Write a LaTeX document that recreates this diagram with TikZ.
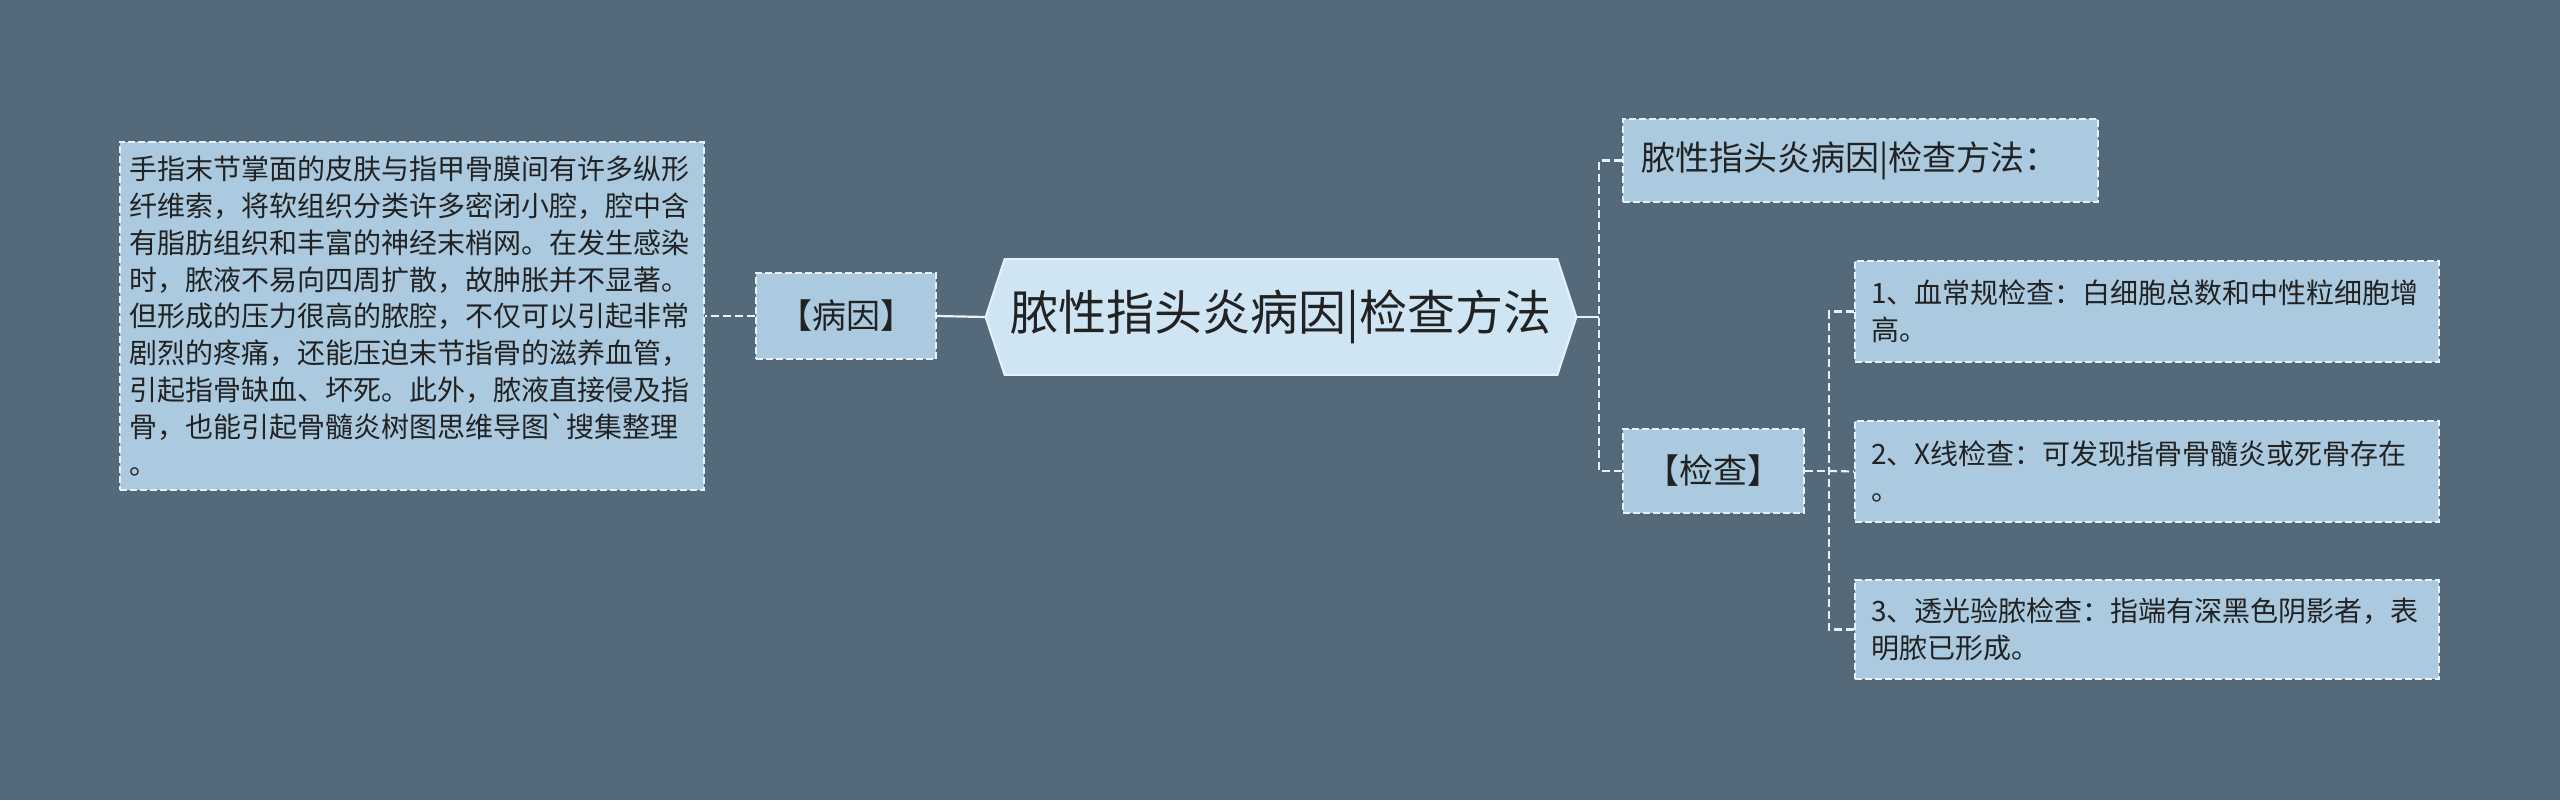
\documentclass[tikz,border=0pt]{standalone}
\usepackage{fontspec}
\setmainfont{Noto Sans CJK SC}[Ligatures=TeXOff]
\usetikzlibrary{backgrounds}
\definecolor{bgcol}{HTML}{546979}
\definecolor{boxcol}{HTML}{ABCADF}
\definecolor{rootcol}{HTML}{CFE5F3}
\definecolor{edgecol}{HTML}{E8F1F8}
\definecolor{inkcol}{HTML}{222222}
\begin{document}
\begin{tikzpicture}[x=0.5pt, y=-0.5pt,
  basebox/.style={rectangle, fill=boxcol, draw=edgecol, line width=1pt, dash pattern=on 3.5pt off 1.5pt, text=inkcol, inner sep=0pt},
  notebox/.style={basebox, font=\fontsize{14pt}{18.4pt}\selectfont, align=left, inner xsep=8pt, text width=276pt, minimum height=50.5pt},
  tagbox/.style={basebox, font=\fontsize{17pt}{20pt}\selectfont},
  rootnode/.style={text=inkcol, font=\fontsize{24pt}{28pt}\selectfont, minimum width=276pt, minimum height=57.5pt, inner sep=0pt},
  rootshape/.style={fill=rootcol, draw=edgecol, line width=1pt},
  link/.style={draw=edgecol, line width=1.1pt},
  dashlink/.style={link, dash pattern=on 4pt off 2pt}]
\useasboundingbox (0,0) rectangle (2560,800);
\begin{scope}[on background layer]
\fill[bgcol] (0,0) rectangle (2560,800);
\end{scope}
% centre
\node[rootnode] (root) at (1281,317) {脓性指头炎病因|检查方法};
\coordinate (rootL) at ([xshift=-9.5pt]root.west);
\coordinate (rootR) at ([xshift=9.5pt]root.east);
\begin{scope}[on background layer]
\draw[rootshape] (rootL) -- (root.north west) -- (root.north east) -- (rootR) -- (root.south east) -- (root.south west) -- cycle;
\end{scope}
% left side
\node[tagbox, minimum width=90pt, minimum height=43pt] (cause) at (846,316) {【病因】};
\node[notebox, inner xsep=5pt, text width=282pt, minimum height=174pt] (detail) at (411.5,316) {手指末节掌面的皮肤与指甲骨膜间有许多纵形\\纤维索，将软组织分类许多密闭小腔，腔中含\\有脂肪组织和丰富的神经末梢网。在发生感染\\时，脓液不易向四周扩散，故肿胀并不显著。\\但形成的压力很高的脓腔，不仅可以引起非常\\剧烈的疼痛，还能压迫末节指骨的滋养血管，\\引起指骨缺血、坏死。此外，脓液直接侵及指\\骨，也能引起骨髓炎树图思维导图`搜集整理\\。};
\draw[link] (rootL) -- (cause.east);
\draw[dashlink] (cause.west) -- (detail.east);
% right side
\node[tagbox, align=left, inner xsep=9pt, text width=219.5pt, minimum height=41.5pt] (title) at (1860.5,160.5) {脓性指头炎病因|检查方法：};
\node[tagbox, minimum width=90.5pt, minimum height=42pt] (exam) at (1713.5,471) {【检查】};
\coordinate (forkR) at (1599,317);
\draw[link] (rootR) -- (forkR);
\draw[dashlink] (title.west) -| (forkR) |- (exam.west);
\node[notebox] (blood) at (2147,311.5) {1、血常规检查：白细胞总数和中性粒细胞增\\高。};
\node[notebox] (xray) at (2147,471.5) {2、X线检查：可发现指骨骨髓炎或死骨存在\\。};
\node[notebox, minimum height=49.5pt] (light) at (2147,629.5) {3、透光验脓检查：指端有深黑色阴影者，表\\明脓已形成。};
\coordinate (forkE) at (1829,471);
\draw[dashlink] (exam.east) -- (forkE);
\draw[dashlink] (blood.west) -| (forkE) |- (light.west);
\draw[dashlink] (forkE) -- (xray.west);
\end{tikzpicture}
\end{document}
